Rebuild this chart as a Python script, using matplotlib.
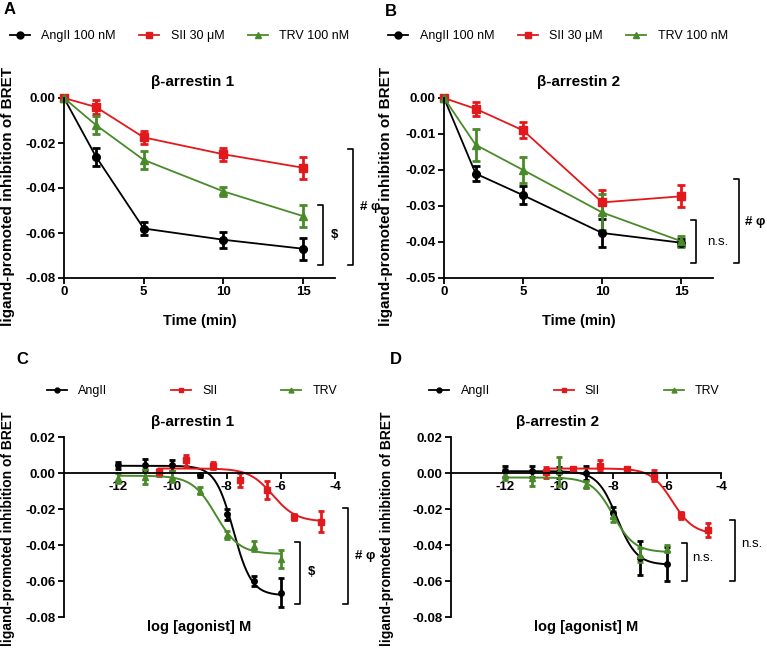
import numpy as np
import matplotlib
matplotlib.use('Agg')
import matplotlib.pyplot as plt
from matplotlib.lines import Line2D

plt.rcParams['font.family'] = ['Liberation Sans', 'DejaVu Sans']
plt.rcParams['axes.unicode_minus'] = False

BLACK = '#000000'
RED = '#e2191c'
GREEN = '#4a8a2a'

# ---------------- time-course data (panels A, B) ----------------
time_min = [0, 2, 5, 10, 15]

a_angii = [0.0, -0.026, -0.058, -0.063, -0.067]
a_angii_err = [0.0, 0.004, 0.003, 0.0035, 0.005]
a_sii = [0.0, -0.004, -0.0175, -0.025, -0.031]
a_sii_err = [0.0, 0.003, 0.003, 0.003, 0.005]
a_trv = [0.0, -0.012, -0.0275, -0.0415, -0.0525]
a_trv_err = [0.0, 0.004, 0.004, 0.002, 0.005]

b_angii = [0.0, -0.021, -0.027, -0.0375, -0.0402]
b_angii_err = [0.0, 0.002, 0.0025, 0.004, 0.001]
b_sii = [0.0, -0.003, -0.009, -0.029, -0.0273]
b_sii_err = [0.0, 0.002, 0.0022, 0.0035, 0.003]
b_trv = [0.0, -0.013, -0.020, -0.0318, -0.0398]
b_trv_err = [0.0, 0.0045, 0.0035, 0.005, 0.0015]

# ---------------- dose-response data (panels C, D) ----------------
log_dose_angii = [-12, -11, -10, -9, -8, -7, -6]
log_dose_trv = [-12, -11, -10, -9, -8, -7, -6]
log_dose_sii = [-10.5, -9.5, -8.5, -7.5, -6.5, -5.5, -4.5]

c_angii = [0.0043, 0.0046, 0.0043, -0.0013, -0.023, -0.060, -0.0666]
c_angii_err = [0.002, 0.003, 0.003, 0.001, 0.003, 0.003, 0.008]
c_sii = [0.0004, 0.007, 0.004, -0.004, -0.0097, -0.0245, -0.027]
c_sii_err = [0.002, 0.003, 0.002, 0.004, 0.005, 0.0015, 0.006]
c_trv = [-0.0028, -0.002, -0.002, -0.0099, -0.0344, -0.0406, -0.048]
c_trv_err = [0.003, 0.004, 0.003, 0.002, 0.002, 0.003, 0.005]

d_angii = [0.001, 0.001, 0.0004, 0.0, -0.022, -0.047, -0.0505]
d_angii_err = [0.003, 0.003, 0.003, 0.004, 0.003, 0.0095, 0.0095]
d_sii = [0.0004, 0.002, 0.004, 0.002, -0.0015, -0.0235, -0.0315]
d_sii_err = [0.003, 0.001, 0.003, 0.001, 0.003, 0.002, 0.004]
d_trv = [-0.001, -0.003, 0.001, -0.0065, -0.024, -0.0455, -0.042]
d_trv_err = [0.003, 0.004, 0.008, 0.002, 0.003, 0.004, 0.002]

# fitted 4-parameter logistic: top, bottom, logEC50, hill slope
c_angii_fit = [0.004, -0.068, -7.75, 1.3]
c_sii_fit = [0.0025, -0.027, -6.3, 1.0]
c_trv_fit = [-0.0015, -0.045, -8.4, 1.0]
d_angii_fit = [0.001, -0.051, -7.85, 1.2]
d_sii_fit = [0.0025, -0.034, -5.8, 1.1]
d_trv_fit = [-0.0025, -0.044, -8.0, 1.1]

legend_time = ['AngII 100 nM', 'SII 30 \u03bcM', 'TRV 100 nM']
legend_dose = ['AngII', 'SII', 'TRV']
colors = [BLACK, RED, GREEN]
markers = ['o', 's', '^']

W, H = 767, 653
fig = plt.figure(figsize=(W / 100, H / 100), dpi=100)


def px_axes(left, right, top, bottom):
    return fig.add_axes([left / W, 1 - bottom / H, (right - left) / W, (bottom - top) / H])


def style_axes(ax, labelsize=9.5):
    for s in ['top', 'right']:
        ax.spines[s].set_visible(False)
    for s in ['left', 'bottom']:
        ax.spines[s].set_linewidth(1.3)
    ax.tick_params(direction='out', length=4, width=1.3, labelsize=labelsize, pad=2)
    for lab in ax.get_xticklabels() + ax.get_yticklabels():
        lab.set_fontweight('bold')


def noclip(container):
    for art in container.get_children():
        art.set_clip_on(False)


def bracket(ax, x, y1, y2, dx, text, tx, ty, bold=False):
    ax.plot([x - dx, x, x, x - dx], [y1, y1, y2, y2], color='k', lw=1.2, clip_on=False)
    ax.text(tx, ty, text, ha='left', va='center', fontsize=9.5,
            fontweight='bold' if bold else 'normal', clip_on=False)


def legend(ax, labels, x, y, colspace, ms):
    handles = [Line2D([], [], color=c, marker=m, ms=ms, lw=1.3) for c, m in zip(colors, markers)]
    ax.legend(handles, labels, loc='center left', bbox_to_anchor=(x, y), ncol=3,
              frameon=False, fontsize=9, handlelength=1.6, handletextpad=0.9,
              columnspacing=colspace, borderaxespad=0, borderpad=0)


def time_panel(ax, series, errs, title, title_x, ylim, yticks):
    for y, e, c, m in zip(series, errs, colors, markers):
        cont = ax.errorbar(time_min, y, yerr=e, color=c, marker=m, ms=5.5, lw=1.3,
                           elinewidth=2.0, capsize=3, capthick=2.0)
        noclip(cont)
    ax.set_xlim(0, 17)
    ax.set_ylim(*ylim)
    ax.set_xticks([0, 5, 10, 15])
    ax.set_yticks(yticks)
    ax.set_yticklabels(['%.2f' % v for v in yticks])
    style_axes(ax)
    ax.text(title_x, 1.09, title, transform=ax.transAxes, ha='center', va='center',
            fontsize=11, fontweight='bold')
    ax.set_xlabel('Time (min)', fontsize=10.5, fontweight='bold')
    ax.xaxis.set_label_coords(0.5, -0.2)
    ax.set_ylabel('ligand-promoted inhibition of BRET', fontsize=11, fontweight='bold')


def logistic(x, p):
    top, bottom, ec, hill = p
    return bottom + (top - bottom) / (1 + 10 ** ((x - ec) * hill))


def dose_panel(ax, series, errs, fits, title, title_x):
    doses = [log_dose_angii, log_dose_sii, log_dose_trv]
    for xd, y, e, p, c, m in zip(doses, series, errs, fits, colors, markers):
        xs = np.linspace(min(xd), max(xd), 300)
        ax.plot(xs, logistic(xs, p), color=c, lw=1.4)
        cont = ax.errorbar(xd, y, yerr=e, color=c, marker=m, ms=4, ls='none',
                           elinewidth=2.0, capsize=2.5, capthick=2.0)
        noclip(cont)
    ax.set_xlim(-14, -4)
    ax.set_ylim(-0.08, 0.02)
    ax.set_xticks([-12, -10, -8, -6, -4])
    yt = [0.02, 0.0, -0.02, -0.04, -0.06, -0.08]
    ax.set_yticks(yt)
    ax.set_yticklabels(['%.2f' % v for v in yt])
    ax.spines['bottom'].set_position(('data', 0))
    style_axes(ax)
    ax.text(title_x, 1.085, title, transform=ax.transAxes, ha='center', va='center',
            fontsize=11, fontweight='bold')
    ax.text(0.5, -0.055, 'log [agonist] M', transform=ax.transAxes, ha='center',
            va='center', fontsize=10.5, fontweight='bold')
    ax.set_ylabel('ligand-promoted inhibition of BRET', fontsize=10, fontweight='bold')


# Panel A
axA = px_axes(64, 335, 98, 278)
time_panel(axA, [a_angii, a_sii, a_trv], [a_angii_err, a_sii_err, a_trv_err],
           '\u03b2-arrestin 1', 0.476, (-0.08, 0.0), [0.0, -0.02, -0.04, -0.06, -0.08])
axA.yaxis.set_label_coords(-0.18, 0.45)
legend(axA, legend_time, -0.2, 1.345, 1.9, 5)
bracket(axA, 16.25, -0.0475, -0.074, 0.3, '$', 16.75, -0.061, bold=True)
bracket(axA, 18.1, -0.0225, -0.074, 0.3, '# \u03c6', 18.55, -0.0485, bold=True)

# Panel B
axB = px_axes(444, 713, 98, 278)
time_panel(axB, [b_angii, b_sii, b_trv], [b_angii_err, b_sii_err, b_trv_err],
           '\u03b2-arrestin 2', 0.5, (-0.05, 0.0), [0.0, -0.01, -0.02, -0.03, -0.04, -0.05])
axB.yaxis.set_label_coords(-0.19, 0.45)
legend(axB, legend_time, -0.207, 1.345, 1.9, 5)
bracket(axB, 15.9, -0.034, -0.0458, 0.3, 'n.s.', 16.6, -0.040)
bracket(axB, 18.65, -0.0225, -0.0458, 0.3, '# \u03c6', 19.05, -0.0345, bold=True)

# Panel C
axC = px_axes(64, 335, 437, 617)
dose_panel(axC, [c_angii, c_sii, c_trv], [c_angii_err, c_sii_err, c_trv_err],
           [c_angii_fit, c_sii_fit, c_trv_fit], '\u03b2-arrestin 1', 0.476)
axC.yaxis.set_label_coords(-0.18, 0.49)
legend(axC, legend_dose, -0.063, 1.255, 5.1, 3.5)
bracket(axC, -5.29, -0.0385, -0.0725, 0.2, '$', -5.0, -0.055, bold=True)
bracket(axC, -3.52, -0.0195, -0.0725, 0.2, '# \u03c6', -3.26, -0.046, bold=True)

# Panel D
axD = px_axes(451, 721, 437, 617)
dose_panel(axD, [d_angii, d_sii, d_trv], [d_angii_err, d_sii_err, d_trv_err],
           [d_angii_fit, d_sii_fit, d_trv_fit], '\u03b2-arrestin 2', 0.396)
axD.yaxis.set_label_coords(-0.21, 0.49)
legend(axD, legend_dose, -0.08, 1.255, 5.1, 3.5)
bracket(axD, -5.26, -0.039, -0.060, 0.2, 'n.s.', -5.05, -0.047)
bracket(axD, -3.48, -0.026, -0.060, 0.2, 'n.s.', -3.24, -0.0395)

# Panel letters
for letter, x, y in [('A', 10, 9), ('B', 391, 11), ('C', 22, 360), ('D', 396, 360)]:
    fig.text(x / W, 1 - y / H, letter, fontsize=12, fontweight='bold', ha='center', va='center')

fig.savefig('out.png', dpi=100)
